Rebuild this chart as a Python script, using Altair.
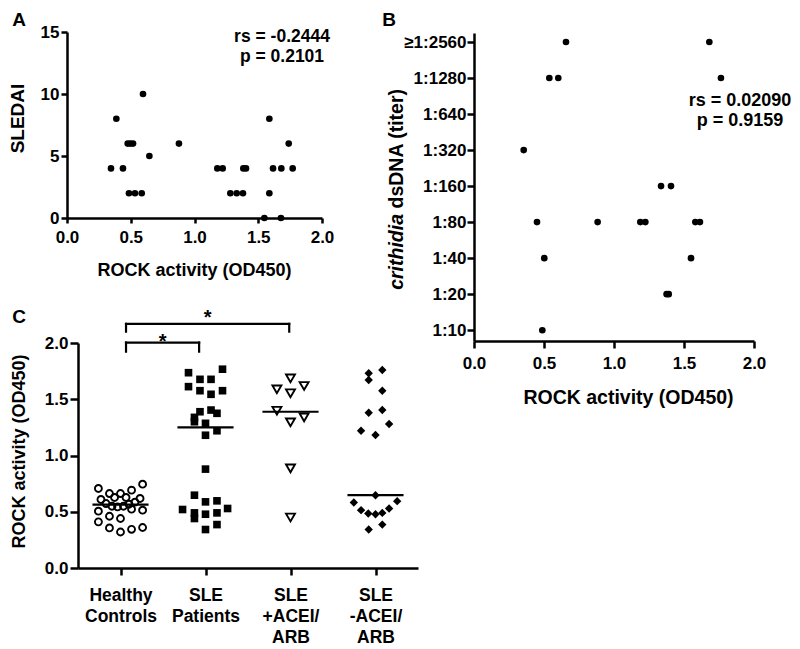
import altair as alt
import pandas as pd

FONT = "Liberation Sans"

# ---------------- Panel A : SLEDAI vs ROCK activity ----------------
a_rock = [0.596, 0.387, 0.476, 0.497, 0.518, 0.878, 0.646, 0.345, 0.439,
          0.486, 0.533, 0.586, 1.179, 1.221, 1.383, 1.404, 1.281, 1.331,
          1.380, 1.587, 1.739, 1.616, 1.681, 1.770, 1.587, 1.548, 1.678]
a_sledai = [10, 8, 6, 6, 6, 6, 5, 4, 4, 2, 2, 2, 4, 4, 4, 4, 2, 2, 2,
            8, 6, 4, 4, 4, 2, 0, 0]
a_rs = "rs = -0.2444"
a_p = "p = 0.2101"

# ---------------- Panel B : crithidia dsDNA titer vs ROCK activity ----------------
b_levels = ["1:10", "1:20", "1:40", "1:80", "1:160", "1:320", "1:640", "1:1280", "\u22651:2560"]
b_rock = [0.657, 1.681, 0.538, 0.602, 1.764, 0.355, 1.336, 1.407, 0.450,
          0.883, 1.188, 1.224, 1.581, 1.614, 0.502, 1.550, 1.376, 1.391, 0.488]
b_titer = ["\u22651:2560", "\u22651:2560", "1:1280", "1:1280", "1:1280", "1:320", "1:160", "1:160",
           "1:80", "1:80", "1:80", "1:80", "1:80", "1:80", "1:40", "1:40", "1:20", "1:20", "1:10"]
b_rs = "rs = 0.02090"
b_p = "p = 0.9159"

# ---------------- Panel C : ROCK activity by group ----------------
c_group_lines = [["Healthy", "Controls"], ["SLE", "Patients"],
                 ["SLE", "+ACEI/", "ARB"], ["SLE", "-ACEI/", "ARB"]]
hc_values = [0.707, 0.745, 0.662, 0.662, 0.692, 0.627, 0.627, 0.609, 0.618,
             0.573, 0.549, 0.543, 0.549, 0.567, 0.585, 0.505, 0.514, 0.523,
             0.460, 0.440, 0.410, 0.356, 0.320, 0.344, 0.360]
hc_jitter = [-0.26, 0.26, -0.13, 0.0, 0.13, -0.07, 0.065, -0.23, 0.23,
             -0.17, -0.10, -0.035, 0.035, 0.10, 0.17, -0.26, 0.26, 0.13,
             -0.13, 0.0, -0.26, -0.13, 0.0, 0.13, 0.26]
sle_values = [1.736, 1.767, 1.677, 1.677, 1.612, 1.576, 1.544, 1.576, 1.389,
              1.404, 1.375, 1.339, 1.300, 1.286, 1.180, 1.220, 0.879, 0.647,
              0.588, 0.597, 0.520, 0.529, 0.490, 0.478, 0.490, 0.440, 0.342, 0.386]
sle_jitter = [-0.2, 0.2, -0.065, 0.065, -0.2, -0.065, 0.065, 0.2, -0.065,
              0.065, 0.135, -0.13, -0.13, 0.0, 0.0, 0.135, 0.0, -0.13,
              0.0, 0.135, -0.27, 0.26, -0.13, 0.0, 0.135, -0.13, 0.0, 0.135]
ace_values = [1.686, 1.588, 1.553, 1.618, 1.398, 1.295, 1.339, 0.885, 0.449]
ace_jitter = [0.0, -0.16, 0.0, 0.16, -0.16, 0.0, 0.16, 0.0, 0.0]
noace_values = [1.731, 1.760, 1.671, 1.576, 1.380, 1.404, 1.280, 1.220, 1.182,
                0.647, 0.582, 0.594, 0.514, 0.484, 0.478, 0.490, 0.529, 0.342, 0.386]
noace_jitter = [-0.08, 0.08, -0.08, 0.08, -0.08, 0.08, 0.16, -0.17, 0.0,
                0.0, -0.255, 0.255, -0.17, -0.085, 0.0, 0.08, 0.16, -0.08, 0.08]
c_medians = [0.564, 1.25, 1.389, 0.647]
median_halfwidth = 0.33

sig_x1 = [0.065, 0.065]
sig_x2 = [0.925, 1.985]
sig_top = [2.004, 2.17]
sig_leg = [1.923, 2.101]
sig_star_y = [2.056, 2.269]
sig_text = ["*", "*"]


def label_layer(text, x, y, size, **kw):
    return alt.Chart(pd.DataFrame({"t": [text]})).mark_text(
        fontSize=size, align=kw.pop("align", "center"), baseline=kw.pop("baseline", "middle"), **kw
    ).encode(x=alt.value(x), y=alt.value(y), text="t:N")


# ---------- Panel A ----------
a_df = pd.DataFrame({"rock": a_rock, "sledai": a_sledai})
a_x = alt.X("rock:Q", scale=alt.Scale(domain=[0, 2], range=[58, 313], nice=False, zero=False),
            axis=alt.Axis(values=[0, 0.5, 1, 1.5, 2], format=".1f", offset=-72, tickSize=5, labelPadding=6,
                          title="ROCK activity (OD450)", titleFontSize=18, titleX=185, titleY=52,
                          titleAlign="center", titleBaseline="middle", titleAngle=0))
a_y = alt.Y("sledai:Q", scale=alt.Scale(domain=[0, 15], range=[210, 24], nice=False, zero=False),
            axis=alt.Axis(values=[0, 5, 10, 15], offset=-58, tickSize=6, labelPadding=2,
                          title="SLEDAI", titleFontSize=19, titleX=-50, titleY=110, titleAngle=270,
                          titleAlign="center", titleBaseline="middle"))
a_pts = alt.Chart(a_df).mark_circle(size=44, color="black", opacity=1).encode(x=a_x, y=a_y)
panel_a = alt.layer(
    a_pts,
    label_layer("A", 10, 12, 19),
    label_layer(a_rs, 273, 29, 17.5),
    label_layer(a_p, 273, 49, 17.5),
).properties(width=372, height=282)

# ---------- Panel B ----------
b_df = pd.DataFrame({"rock": b_rock, "level": [b_levels.index(t) for t in b_titer]})
b_label_expr = "[" + ",".join("'" + s + "'" for s in b_levels) + "][datum.value]"
b_x = alt.X("rock:Q", scale=alt.Scale(domain=[0, 2], range=[93, 373], nice=False, zero=False),
            axis=alt.Axis(values=[0, 0.5, 1, 1.5, 2], format=".1f", offset=51, tickSize=7, labelPadding=7,
                          title="ROCK activity (OD450)", titleFontSize=19.5, titleX=247, titleY=56,
                          titleAlign="center", titleBaseline="middle", titleAngle=0))
b_y = alt.Y("level:Q", scale=alt.Scale(domain=[-0.3, 8.25], range=[333, 25], nice=False, zero=False),
            axis=alt.Axis(values=list(range(len(b_levels))), labelExpr=b_label_expr, offset=-93,
                          tickSize=7, labelPadding=1, title=None))
b_pts = alt.Chart(b_df).mark_circle(size=44, color="black", opacity=1).encode(x=b_x, y=b_y)
panel_b = alt.layer(
    b_pts,
    label_layer("B", 8, 12, 19),
    label_layer("crithidia", 16, 206, 19.5, angle=270, align="right", fontStyle="italic"),
    label_layer("dsDNA (titer)", 16, 200.5, 19.5, angle=270, align="left"),
    label_layer(b_rs, 359, 93, 18),
    label_layer(b_p, 359, 113, 18),
).properties(width=405, height=282)

# ---------- Panel C ----------
def group_frame(idx, values, jitter):
    return pd.DataFrame({"pos": [idx + j for j in jitter], "value": values})

c_label_expr = "[" + ",".join("[" + ",".join("'" + s + "'" for s in lines) + "]"
                              for lines in c_group_lines) + "][datum.value]"
c_xscale = alt.Scale(domain=[-0.5, 3.5], range=[69, 409], nice=False, zero=False)
c_yscale = alt.Scale(domain=[0, 2], range=[278, 53], nice=False, zero=False)
c_xaxis = alt.Axis(values=[0, 1, 2, 3], labelExpr=c_label_expr, offset=-67, tickSize=7,
                   labelPadding=11, labelLineHeight=21, labelAlign="center", labelBaseline="top",
                   labelFontSize=17.5, title=None)
c_yaxis = alt.Axis(values=[0, 0.5, 1, 1.5, 2], format=".1f", offset=-69, tickSize=8, labelPadding=2,
                   title="ROCK activity (OD450)", titleFontSize=18, titleX=-59, titleY=161,
                   titleAngle=270, titleAlign="center", titleBaseline="middle")


def cx(field):
    return alt.X(field, scale=c_xscale, axis=c_xaxis)


def cy(field):
    return alt.Y(field, scale=c_yscale, axis=c_yaxis)


hc_layer = alt.Chart(group_frame(0, hc_values, hc_jitter)).mark_point(
    shape="circle", filled=False, size=48, strokeWidth=1.9, color="black", opacity=1
).encode(x=cx("pos:Q"), y=cy("value:Q"))
sle_layer = alt.Chart(group_frame(1, sle_values, sle_jitter)).mark_square(
    size=58, color="black", opacity=1
).encode(x=cx("pos:Q"), y=cy("value:Q"))
ace_layer = alt.Chart(group_frame(2, ace_values, ace_jitter)).mark_point(
    shape="triangle-down", filled=False, size=80, strokeWidth=1.9, color="black", opacity=1
).encode(x=cx("pos:Q"), y=cy("value:Q"))
noace_layer = alt.Chart(group_frame(3, noace_values, noace_jitter)).mark_point(
    shape="diamond", filled=True, size=70, color="black", opacity=1
).encode(x=cx("pos:Q"), y=cy("value:Q"))

med_df = pd.DataFrame({
    "lo": [i - median_halfwidth for i in range(len(c_medians))],
    "hi": [i + median_halfwidth for i in range(len(c_medians))],
    "median": c_medians,
})
med_layer = alt.Chart(med_df).mark_rule(strokeWidth=2.2, color="black").encode(
    x=cx("lo:Q"), x2="hi:Q", y=cy("median:Q"))

br_df = pd.DataFrame({"x1": sig_x1, "x2": sig_x2, "top": sig_top})
br_layer = alt.Chart(br_df).mark_rule(strokeWidth=2.2, color="black", strokeCap="square").encode(
    x=cx("x1:Q"), x2="x2:Q", y=cy("top:Q"))
legs_df = pd.DataFrame({"lx": sig_x1 + sig_x2, "top": sig_top + sig_top, "leg": sig_leg + sig_leg})
legs_layer = alt.Chart(legs_df).mark_rule(strokeWidth=2.2, color="black", strokeCap="square").encode(
    x=cx("lx:Q"), y=cy("top:Q"), y2="leg:Q")
star_df = pd.DataFrame({"sx": [(a + b) / 2 for a, b in zip(sig_x1, sig_x2)],
                        "sy": sig_star_y, "t": sig_text})
star_layer = alt.Chart(star_df).mark_text(fontSize=20, baseline="middle", dy=5).encode(
    x=cx("sx:Q"), y=cy("sy:Q"), text="t:N")

panel_c = alt.layer(
    hc_layer, sle_layer, ace_layer, noace_layer, med_layer, br_layer, legs_layer, star_layer,
    label_layer("C", 10, 27, 19),
).properties(width=372, height=345)

chart = alt.concat(
    panel_a, panel_b, panel_c, columns=2, spacing=0, bounds="flush", align="each"
).properties(padding=0).configure_view(stroke=None).configure_axis(
    grid=False, labelFlush=False, labelOverlap=False,
    domainColor="black", domainWidth=2.5, tickColor="black", tickWidth=2.5,
    labelColor="black", titleColor="black", labelFont=FONT, titleFont=FONT,
    labelFontWeight="bold", titleFontWeight="bold", labelFontSize=17,
).configure_text(font=FONT, fontWeight="bold", color="black")

chart.save("out.html", embed_options={"renderer": "svg", "actions": False})
